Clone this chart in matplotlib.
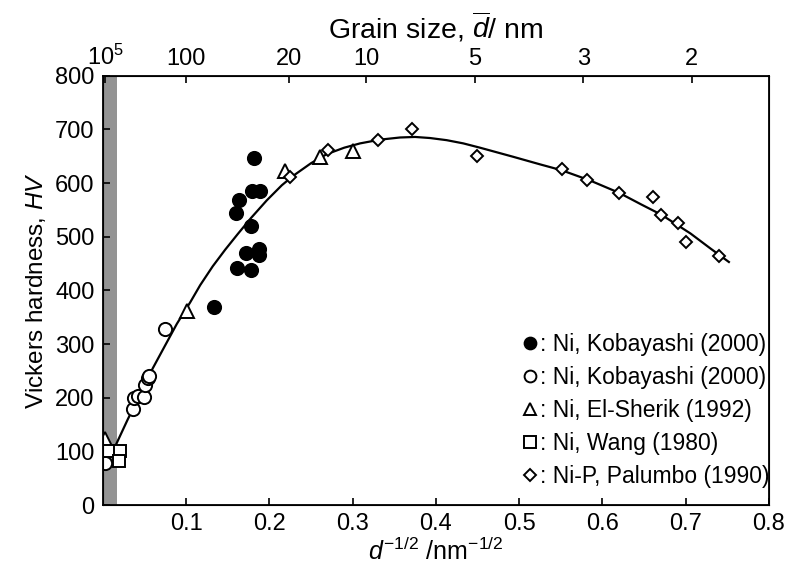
import matplotlib
matplotlib.use("Agg")
import matplotlib.pyplot as plt
from matplotlib.lines import Line2D

plt.rcParams["font.family"] = ["Liberation Sans", "DejaVu Sans"]
plt.rcParams["mathtext.fontset"] = "custom"
plt.rcParams["mathtext.rm"] = "Liberation Sans"
plt.rcParams["mathtext.it"] = "Liberation Sans:italic"

# Ni, Kobayashi (2000) - filled
filled_x = [0.181, 0.163, 0.160, 0.179, 0.189, 0.178, 0.172, 0.187, 0.187, 0.161, 0.178, 0.133]
filled_y = [646, 568, 544, 585, 585, 521, 470, 478, 466, 442, 438, 369]

# Ni, Kobayashi (2000) - open
open_x = [0.003, 0.036, 0.038, 0.042, 0.050, 0.051, 0.054, 0.055, 0.075]
open_y = [79, 180, 199, 203, 202, 223, 236, 240, 329]

# Ni, El-Sherik (1992)
tri_x = [0.0025, 0.101, 0.219, 0.261, 0.300]
tri_y = [124, 361, 623, 649, 659]

# Ni, Wang (1980)
sq_x = [0.007, 0.021, 0.020]
sq_y = [101, 101, 82]

# Ni-P, Palumbo (1990)
dia_x = [0.225, 0.271, 0.330, 0.371, 0.450, 0.551, 0.581, 0.620, 0.661, 0.671, 0.691, 0.700, 0.740]
dia_y = [611, 662, 681, 701, 650, 626, 605, 582, 575, 540, 525, 490, 464]

# fitted curve
curve_x = [0.008, 0.015, 0.030, 0.045, 0.060, 0.075, 0.089, 0.105, 0.117, 0.132, 0.147,
           0.162, 0.178, 0.197, 0.215, 0.229, 0.250, 0.269, 0.290, 0.309, 0.333, 0.357,
           0.375, 0.393, 0.413, 0.433, 0.453, 0.493, 0.525, 0.551, 0.585, 0.620, 0.647,
           0.671, 0.706, 0.730, 0.752]
curve_y = [88, 110, 160, 207, 255, 298, 338, 378, 410, 445, 476,
           505, 535, 568, 596, 614, 637, 654, 666, 674, 681, 685,
           686, 684, 680, 674, 666, 649, 635, 624, 605, 582, 560,
           541, 506, 478, 453]

# top axis: grain size d (nm), placed at d^-1/2
grain_d = [1e5, 100, 20, 10, 5, 3, 2]
top_labels = ["10$^5$", "100", "20", "10", "5", "3", "2"]

fig = plt.figure(figsize=(7.91, 5.74), dpi=100)
ax = fig.add_axes([0.130, 0.120, 0.842, 0.748])

ax.axvspan(0, 0.017, color="#939393", lw=0, zorder=0)
ax.plot(curve_x, curve_y, color="black", lw=1.6, zorder=2)

mk = dict(ls="none", markeredgecolor="black", mew=1.4, zorder=3)
ax.plot(filled_x, filled_y, marker="o", ms=9.5, markerfacecolor="black", **mk)
ax.plot(open_x, open_y, marker="o", ms=9.5, markerfacecolor="white", **mk)
ax.plot(tri_x, tri_y, marker="^", ms=9.5, markerfacecolor="white", **mk)
ax.plot(sq_x, sq_y, marker="s", ms=9, markerfacecolor="white", **mk)
ax.plot(dia_x, dia_y, marker="D", ms=6.5, markerfacecolor="white", **mk)

ax.set_xlim(0, 0.8)
ax.set_ylim(0, 800)
ax.set_xticks([0.1, 0.2, 0.3, 0.4, 0.5, 0.6, 0.7, 0.8])
ax.set_xticklabels(["0.1", "0.2", "0.3", "0.4", "0.5", "0.6", "0.7", "0.8"])
ax.set_yticks(range(0, 801, 100))
ax.tick_params(direction="in", length=5, width=1.2, labelsize=17, pad=6)
for s in ax.spines.values():
    s.set_linewidth(1.3)

ax.set_xlabel(r"$d^{\mathrm{-1/2}}$ /nm$^{\mathrm{-1/2}}$", fontsize=18, labelpad=2)
ax.set_ylabel(r"Vickers hardness, $HV$", fontsize=17.5, labelpad=5)

top = ax.twiny()
top.set_xlim(0, 0.8)
top.set_xticks([d ** -0.5 for d in grain_d])
top.set_xticklabels(top_labels)
top.tick_params(direction="in", length=5, width=1.2, labelsize=17, pad=4)
top.set_xlabel(r"Grain size, $\overline{d}$/ nm", fontsize=20.5, labelpad=5)

lk = dict(ls="none", color="black", markeredgecolor="black", mew=1.4)
handles = [
    Line2D([], [], marker="o", ms=8.5, markerfacecolor="black", **lk),
    Line2D([], [], marker="o", ms=8.5, markerfacecolor="white", **lk),
    Line2D([], [], marker="^", ms=8.5, markerfacecolor="white", **lk),
    Line2D([], [], marker="s", ms=8.5, markerfacecolor="white", **lk),
    Line2D([], [], marker="D", ms=6, markerfacecolor="white", **lk),
]
labels = [": Ni, Kobayashi (2000)", ": Ni, Kobayashi (2000)", ": Ni, El-Sherik (1992)",
          ": Ni, Wang (1980)", ": Ni-P, Palumbo (1990)"]
ax.legend(handles, labels, loc="lower right", bbox_to_anchor=(1.022, 0.008), frameon=False,
          fontsize=16.5, handlelength=0.6, handletextpad=0.15, labelspacing=0.44,
          borderaxespad=0.2)

plt.savefig("out.png", dpi=100)
